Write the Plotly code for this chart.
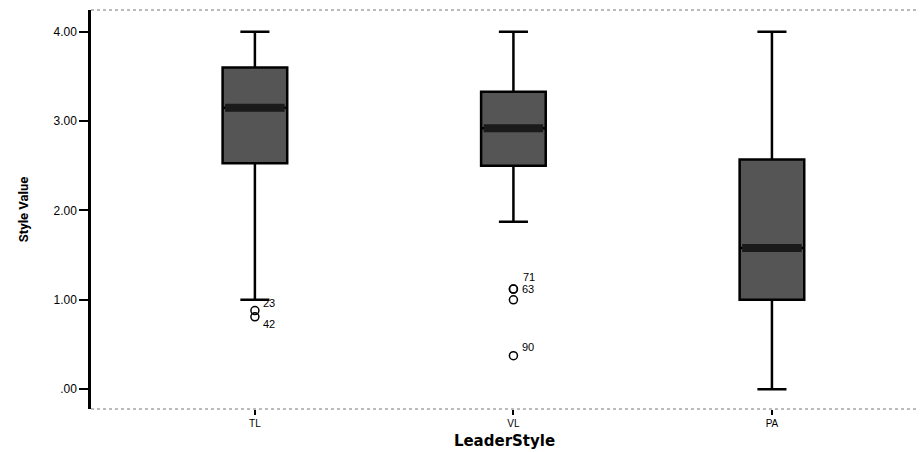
import plotly.graph_objects as go

# Leader style categories and box statistics (Style Value)
categories = ["TL", "VL", "PA"]
lower_whisker = [1.00, 1.875, 0.00]
q1_values = [2.53, 2.50, 1.00]
median_values = [3.15, 2.92, 1.58]
q3_values = [3.60, 3.33, 2.57]
upper_whisker = [4.00, 4.00, 4.00]

# Outlying cases: category index, value, case label
outlier_cat = [0, 0, 1, 1, 1, 1]
outlier_val = [0.88, 0.81, 1.12, 1.12, 1.00, 0.375]
outlier_lbl = ["23", "42", "71", "63", "", "90"]

y_tick_vals = [0, 1, 2, 3, 4]
y_tick_text = [".00", "1.00", "2.00", "3.00", "4.00"]

BOX_W = 0.25
fig = go.Figure()

xs = list(range(len(categories)))
fig.add_trace(go.Box(
    x=xs,
    q1=q1_values, median=median_values, q3=q3_values,
    lowerfence=lower_whisker, upperfence=upper_whisker,
    width=BOX_W, whiskerwidth=0.45,
    fillcolor="#555555",
    line=dict(color="black", width=2.5),
    boxpoints=False, hoverinfo="skip", showlegend=False,
))

# Emphasised median bands
for i, m in enumerate(median_values):
    fig.add_trace(go.Scatter(
        x=[i - BOX_W / 2 + 0.01, i + BOX_W / 2 - 0.01], y=[m, m],
        mode="lines", line=dict(color="#1a1a1a", width=8),
        hoverinfo="skip", showlegend=False,
    ))

# Outlier circles
fig.add_trace(go.Scatter(
    x=outlier_cat, y=outlier_val, mode="markers",
    marker=dict(symbol="circle-open", size=8, color="black", line=dict(width=1.5)),
    hoverinfo="skip", showlegend=False,
))

# Case labels beside the outliers
label_offsets = {"23": (14, 8), "42": (14, -7), "71": (16, 12), "63": (15, 0), "90": (15, 9)}
for c, v, lbl in zip(outlier_cat, outlier_val, outlier_lbl):
    if not lbl:
        continue
    dx, dy = label_offsets[lbl]
    fig.add_annotation(x=c, y=v, xref="x", yref="y", text=lbl, showarrow=False,
                       xshift=dx, yshift=dy,
                       font=dict(family="Liberation Sans, Arial", size=11, color="black"))

# Dotted frame lines along top and bottom of plot area
for yy in (0, 1):
    fig.add_shape(type="line", xref="paper", yref="paper", x0=0, x1=1, y0=yy, y1=yy,
                  line=dict(color="#777777", width=1, dash="dot"))

fig.update_layout(
    width=923, height=452,
    margin=dict(l=91, r=5, t=10, b=40),
    plot_bgcolor="white", paper_bgcolor="white",
    xaxis=dict(
        range=[-0.634, 2.565], tickvals=xs, ticktext=categories,
        showgrid=False, zeroline=False, showline=False,
        ticks="outside", ticklen=5, tickwidth=1.5, tickcolor="black",
        tickfont=dict(family="Liberation Sans, Arial", size=10, color="black"),
        title=dict(text="<b>LeaderStyle</b>", standoff=7,
                   font=dict(family="DejaVu Sans", size=15, color="black")),
    ),
    yaxis=dict(
        range=[-0.222, 4.244], tickvals=y_tick_vals, ticktext=y_tick_text,
        showgrid=False, zeroline=False,
        showline=True, linecolor="black", linewidth=2.5,
        ticks="outside", ticklen=9, tickwidth=1.5, tickcolor="black",
        tickfont=dict(family="Liberation Sans, Arial", size=12, color="black"),
        title=dict(text="<b>Style Value</b>", standoff=22,
                   font=dict(family="Liberation Sans Narrow, Arial Narrow, Roboto", size=13, color="black")),
    ),
)

fig.write_html("out.html")
